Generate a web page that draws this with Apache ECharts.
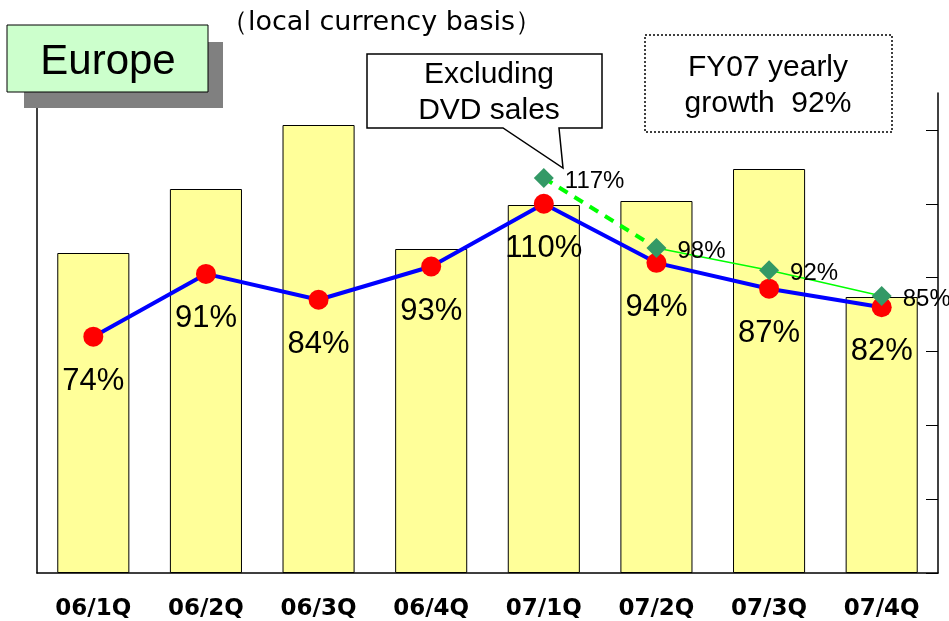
<!DOCTYPE html>
<html><head><meta charset="utf-8">
<script src="https://cdn.jsdelivr.net/npm/echarts@6/dist/echarts.min.js"></script>
<style>html,body{margin:0;padding:0;background:#fff}#c{width:949px;height:621px}</style>
</head><body><div id="c"></div>
<script>
const categories = ['06/1Q','06/2Q','06/3Q','06/4Q','07/1Q','07/2Q','07/3Q','07/4Q'];
const sales = [80, 96, 112, 81, 92, 93, 101, 69];            // bar heights (unlabelled left scale)
const growth = [74, 91, 84, 93, 110, 94, 87, 82];             // YoY growth %, local currency
const growthExDVD = [null, null, null, null, 117, 98, 92, 85];// excluding DVD sales
const rightTicks = [10, 30, 50, 70, 90, 110, 130];

const dashedPart = growthExDVD.map((v, i) => (i === 4 || i === 5) ? v : null);
const solidPart = growthExDVD.map((v, i) => (i >= 5) ? v : null);

const chart = echarts.init(document.getElementById('c'));
const F = '"Liberation Sans", Arial, sans-serif';
const FD = '"DejaVu Sans", "Liberation Sans", sans-serif';
chart.setOption({
  animation: false,
  grid: { left: 37, right: 11, top: 93, bottom: 48 },
  xAxis: {
    type: 'category', data: categories,
    axisLine: { lineStyle: { color: '#000', width: 1.5 } },
    axisTick: { inside: true, length: 5, lineStyle: { color: '#000' } },
    axisLabel: { margin: 25, fontSize: 23, fontWeight: 'bold', color: '#000', fontFamily: FD }
  },
  yAxis: [
    { type: 'value', min: 0, max: 120, position: 'left',
      axisLine: { show: true, lineStyle: { color: '#000', width: 1.5 } },
      axisTick: { show: false }, axisLabel: { show: false }, splitLine: { show: false } },
    { type: 'value', min: 10, max: 140, position: 'right',
      axisLine: { show: true, lineStyle: { color: '#000', width: 1.5 } },
      axisTick: { show: true, inside: true, length: 12, customValues: rightTicks, lineStyle: { color: '#000' } },
      axisLabel: { show: false }, splitLine: { show: false } }
  ],
  series: [
    { type: 'bar', data: sales, yAxisIndex: 0, barWidth: '64%',
      itemStyle: { color: '#FFFF99', borderColor: '#000', borderWidth: 1 }, z: 1 },
    { type: 'line', data: dashedPart, yAxisIndex: 1, showSymbol: false, connectNulls: false,
      lineStyle: { color: '#00FF00', width: 4, type: [10, 8] }, z: 2 },
    { type: 'line', data: solidPart, yAxisIndex: 1, showSymbol: false,
      lineStyle: { color: '#00FF00', width: 1.5 }, z: 2 },
    { type: 'line', data: growth, yAxisIndex: 1, symbol: 'circle', symbolSize: 20,
      lineStyle: { color: '#0000FF', width: 4 }, itemStyle: { color: '#FF0000' },
      label: { show: true, position: 'bottom', distance: 19, formatter: '{c}%',
        fontSize: 31, color: '#000', fontFamily: F }, z: 3 },
    { type: 'scatter', data: growthExDVD, yAxisIndex: 1, symbol: 'diamond', symbolSize: 20,
      itemStyle: { color: '#339966', opacity: 1 },
      label: { show: true, position: 'right', distance: 11, formatter: '{c}%',
        fontSize: 24, color: '#000', fontFamily: F, offset: [0, 3] }, z: 4 }
  ],
  graphic: [
    { type: 'rect', shape: { x: 24, y: 42, width: 199, height: 66 }, style: { fill: '#808080' }, z: 10 },
    { type: 'rect', shape: { x: 7, y: 25, width: 201, height: 67 }, style: { fill: '#CCFFCC', stroke: '#000', lineWidth: 1 }, z: 11 },
    { type: 'text', x: 108, y: 62, style: { text: 'Europe', fontSize: 42, fontFamily: F, fill: '#000', align: 'center', verticalAlign: 'middle' }, z: 12 },
    { type: 'text', x: 221, y: 23, style: { text: '（local currency basis）', fontSize: 27, fontFamily: FD, fill: '#000', align: 'left', verticalAlign: 'middle' }, z: 12 },
    { type: 'polygon', shape: { points: [[367,54],[602,54],[602,128],[559,128],[563,168],[503,128],[367,128]] },
      style: { fill: '#fff', stroke: '#000', lineWidth: 1.5 }, z: 10 },
    { type: 'text', x: 489, y: 75, style: { text: 'Excluding', fontSize: 30, fontFamily: F, fill: '#000', align: 'center', verticalAlign: 'middle' }, z: 12 },
    { type: 'text', x: 489, y: 111, style: { text: 'DVD sales', fontSize: 30, fontFamily: F, fill: '#000', align: 'center', verticalAlign: 'middle' }, z: 12 },
    { type: 'rect', shape: { x: 645, y: 35, width: 247, height: 97 }, style: { fill: '#fff', stroke: '#000', lineWidth: 1.5, lineDash: [2, 2] }, z: 10 },
    { type: 'text', x: 768, y: 68, style: { text: 'FY07 yearly', fontSize: 30, fontFamily: F, fill: '#000', align: 'center', verticalAlign: 'middle' }, z: 12 },
    { type: 'text', x: 768, y: 104, style: { text: 'growth  92%', fontSize: 30, fontFamily: F, fill: '#000', align: 'center', verticalAlign: 'middle' }, z: 12 }
  ]
});
</script></body></html>
